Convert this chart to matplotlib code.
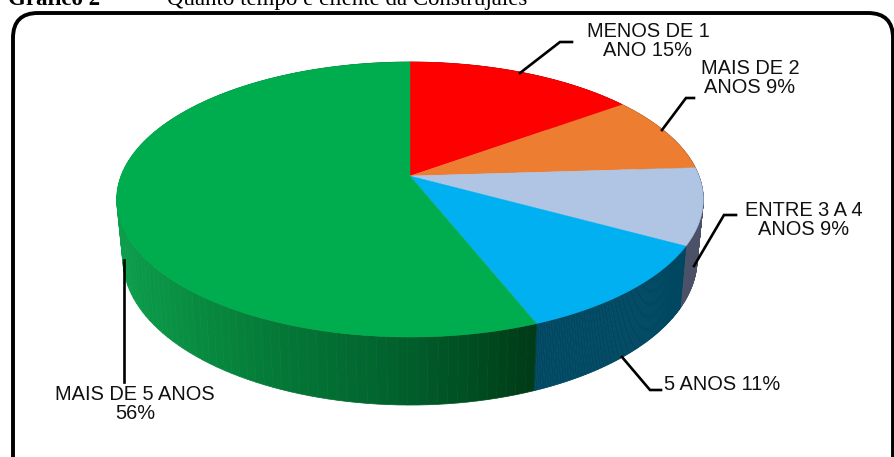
import numpy as np
import matplotlib
matplotlib.use('Agg')
import matplotlib.pyplot as plt
from matplotlib.patches import Polygon, FancyBboxPatch

rotulos = ['MENOS DE 1\nANO 15%', 'MAIS DE 2\nANOS 9%', 'ENTRE 3 A 4\nANOS 9%', '5 ANOS 11%', 'MAIS DE 5 ANOS\n56%']
valores = [15, 9, 9, 11, 56]
cores = ['#ff0000', '#ed7d31', '#b0c4e3', '#00b0f0', '#00ad4e']
cores_lado = ['#990000', '#8e4b1d', '#4b5268', '#004862', None]

# gradiente do lado verde (posicao x, cor)
grad_x = [118, 200, 290, 400, 470, 530]
grad_r = [12, 8, 4, 1, 0, 0]
grad_g = [158, 138, 118, 96, 78, 60]
grad_b = [76, 64, 54, 44, 34, 24]

pos_rotulos = [(648, 41), (750, 78), (804, 220), (722, 385), (135, 404)]
guias = [
    [(520, 73), (560, 42), (572, 42)],
    [(662, 130), (686, 98), (694, 98)],
    [(694, 266), (724, 215), (736, 215)],
    [(622, 357), (650, 390), (661, 390)],
    [(124, 260), (124, 382)],
]

fig = plt.figure(figsize=(8.95, 4.57), dpi=100)
ax = fig.add_axes([0, 0, 1, 1])
ax.set_xlim(0, 895)
ax.set_ylim(457, 0)
ax.axis('off')


# disco unitario -> tampa em perspectiva
def topo(ang):
    x, y = np.sin(ang), np.cos(ang)
    w = 1 + 0.171 * y
    return 410 + 289 * x / w, 176 - 133.5 * y / w


def base(ang):
    X, Y = topo(ang)
    return 410 + (X - 410) * 0.979, 176 + (Y - 176) * 1.064 + 57.7


limites = np.cumsum([0] + valores) / sum(valores) * 2 * np.pi

# lados primeiro
for i in range(len(valores)):
    angs = np.linspace(limites[i], limites[i + 1], 120)
    for a, b in zip(angs[:-1], angs[1:]):
        xt1, yt1 = topo(a)
        xt2, yt2 = topo(b)
        xb1, yb1 = base(a)
        xb2, yb2 = base(b)
        if cores_lado[i] is None:
            xm = (xt1 + xt2) / 2
            cor = (np.interp(xm, grad_x, grad_r) / 255,
                   np.interp(xm, grad_x, grad_g) / 255,
                   np.interp(xm, grad_x, grad_b) / 255)
        else:
            cor = cores_lado[i]
        ax.add_patch(Polygon([(xt1, yt1), (xt2, yt2), (xb2, yb2), (xb1, yb1)],
                             facecolor=cor, edgecolor=cor, linewidth=0.5))

# fatias de cima
for i in range(len(valores)):
    angs = np.linspace(limites[i], limites[i + 1], 200)
    X, Y = topo(angs)
    pts = [(410, 176)] + list(zip(X, Y))
    ax.add_patch(Polygon(pts, facecolor=cores[i], edgecolor=cores[i], linewidth=0.3))

for g in guias:
    ax.plot([p[0] for p in g], [p[1] for p in g], color='black', linewidth=1.9,
            solid_joinstyle='miter', zorder=5)

for r, p in zip(rotulos, pos_rotulos):
    ax.text(p[0], p[1], r, ha='center', va='center', fontsize=14.4, color='#111111',
            family='Liberation Sans', linespacing=1.05, zorder=6)

# moldura arredondada
ax.add_patch(FancyBboxPatch((38, 38), 830, 500, boxstyle='round,pad=25,rounding_size=25',
                            facecolor='none', edgecolor='black', linewidth=2.8, zorder=7))

ax.text(8, 5, 'Gráfico 2', fontsize=16.5, fontweight='bold', family='Liberation Serif', va='baseline')
ax.text(140, 5, '–', fontsize=16.5, family='Liberation Serif', va='baseline')
ax.text(167, 5, 'Quanto tempo é cliente da Construjáles', fontsize=16.5,
        family='Liberation Serif', va='baseline')

fig.savefig('out.png', dpi=100)
